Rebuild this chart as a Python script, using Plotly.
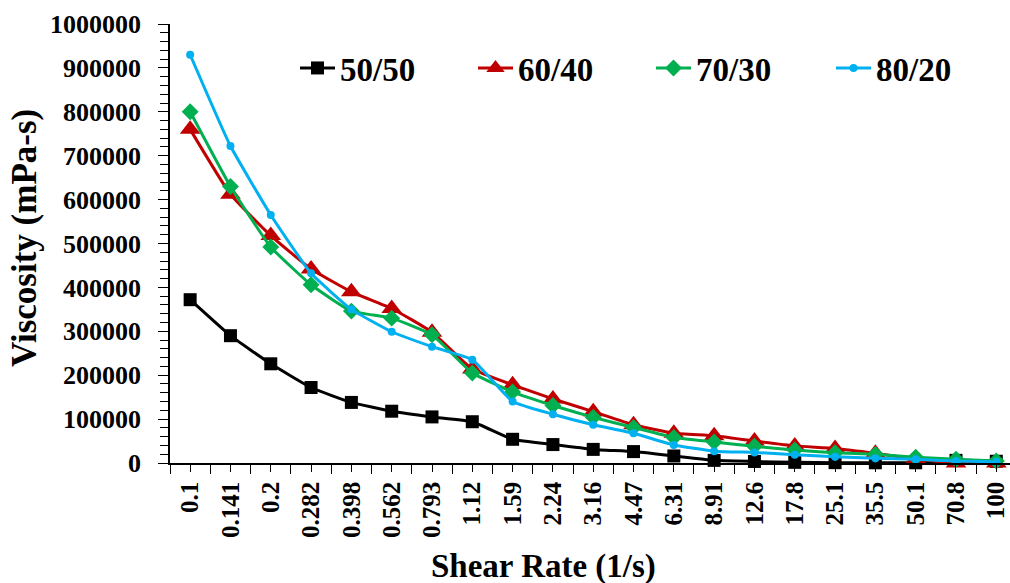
import plotly.graph_objects as go

shear_rate_labels = ["0.1", "0.141", "0.2", "0.282", "0.398", "0.562", "0.793", "1.12",
                     "1.59", "2.24", "3.16", "4.47", "6.31", "8.91", "12.6", "17.8",
                     "25.1", "35.5", "50.1", "70.8", "100"]

visc_50_50 = [372000, 290000, 226000, 172000, 138000, 118000, 105000, 94000, 54000, 42000,
              31000, 26000, 16000, 6000, 3500, 1500, 800, 500, 500, 6000, 4000]
visc_60_40 = [760000, 612000, 518000, 442000, 390000, 352000, 298000, 214000, 178000, 146000,
              117000, 87000, 68000, 62000, 50000, 39000, 33000, 22000, 9000, 0, 0]
visc_70_30 = [800000, 630000, 492000, 406000, 346000, 330000, 292000, 205000, 162000, 131000,
              104000, 81000, 58000, 48000, 38000, 29600, 23500, 19700, 13000, 8400, 4500]
visc_80_20 = [930000, 722000, 565000, 432000, 350000, 299000, 265000, 235000, 140000, 111000,
              87000, 67600, 41000, 27000, 24000, 19000, 14400, 10600, 8400, 4500, 2700]

series_names = ["50/50", "60/40", "70/30", "80/20"]
series_values = [visc_50_50, visc_60_40, visc_70_30, visc_80_20]
series_colors = ["#000000", "#C00000", "#00B050", "#00B0F0"]
series_symbols = ["square", "triangle-up", "diamond", "circle"]
series_sizes = [13, 18, 13, 8]

y_tick_values = list(range(0, 1000001, 100000))

FONT = "Liberation Serif"
W, H = 1010, 583
ML, MR, MT, MB = 170, 0, 24, 120
PW, PH = W - ML - MR, H - MT - MB
x_idx = list(range(len(shear_rate_labels)))
boundaries = [i - 0.5 for i in range(len(shear_rate_labels) + 1)]

legend_ids = ["legend", "legend2", "legend3", "legend4"]
legend_left_px = [295, 473, 651, 831]

fig = go.Figure()
for name, vals, col, sym, sz, lid in zip(series_names, series_values, series_colors,
                                         series_symbols, series_sizes, legend_ids):
    fig.add_trace(go.Scatter(
        x=x_idx, y=vals, name=name, mode="lines+markers", legend=lid,
        line=dict(color=col, width=3, shape="spline", smoothing=0.4),
        marker=dict(symbol=sym, size=sz, color=col, line=dict(width=0)),
        cliponaxis=False,
    ))

legend_font = dict(family=FONT, size=33, color="#000000", weight="bold")
legend_layout = {}
for lid, lx in zip(legend_ids, legend_left_px):
    legend_layout[lid] = dict(
        x=(lx - ML) / PW, y=(H - MB - 68) / PH, xanchor="left", yanchor="middle",
        orientation="h", font=legend_font, itemwidth=35,
        bgcolor="rgba(0,0,0,0)", borderwidth=0,
    )

tick_font = dict(family=FONT, size=26, color="#000000", weight="bold")

fig.update_layout(
    width=W, height=H,
    margin=dict(l=ML, r=MR, t=MT, b=MB, autoexpand=False),
    paper_bgcolor="white", plot_bgcolor="white",
    showlegend=True,
    xaxis=dict(
        range=[-0.5, 20.34], showgrid=False, zeroline=False,
        showline=True, linecolor="#000000", linewidth=1.5,
        tickmode="array", tickvals=x_idx, ticktext=shear_rate_labels,
        ticks="outside", ticklen=7, tickwidth=1.3, tickcolor="#000000",
        tickangle=-90, tickfont=dict(family=FONT, size=25, color="#000000", weight="bold"),
        minor=dict(tickmode="array", tickvals=boundaries, ticks="outside",
                   ticklen=9, tickwidth=1.3, tickcolor="#000000", showgrid=False),
    ),
    yaxis=dict(
        range=[0, 1000000], showgrid=False, zeroline=False,
        showline=True, linecolor="#000000", linewidth=1.5,
        tickmode="array", tickvals=y_tick_values,
        ticktext=[str(v) for v in y_tick_values],
        ticks="outside", ticklen=10, tickwidth=1.3, tickcolor="#000000",
        tickfont=tick_font, ticklabelstandoff=12,
        minor=dict(dtick=20000, ticks="outside", ticklen=8, tickwidth=1.3,
                   tickcolor="#000000", showgrid=False),
    ),
    xaxis2=dict(overlaying="x", matches="x", anchor="y", showgrid=False, zeroline=False,
                showline=False, tickmode="array", tickvals=boundaries,
                ticks="inside", ticklen=8, tickwidth=1.3, tickcolor="#000000",
                showticklabels=False),
    yaxis2=dict(overlaying="y", matches="y", anchor="x", side="left", showgrid=False,
                zeroline=False, showline=False, tickmode="array", tickvals=y_tick_values,
                ticks="inside", ticklen=6, tickwidth=1.3, tickcolor="#000000",
                showticklabels=False),
    **legend_layout,
)

fig.add_annotation(text="Viscosity (mPa-s)", xref="paper", yref="paper",
                   x=(25 - ML) / PW, y=(H - MB - 238) / PH, textangle=-90,
                   xanchor="center", yanchor="middle", showarrow=False,
                   font=dict(family=FONT, size=35, color="#000000", weight="bold"))
fig.add_annotation(text="Shear Rate (1/s)", xref="paper", yref="paper",
                   x=(543 - ML) / PW, y=(H - MB - 566) / PH,
                   xanchor="center", yanchor="middle", showarrow=False,
                   font=dict(family=FONT, size=33, color="#000000", weight="bold"))

fig.write_html("out.html",
               config={"displayModeBar": False},
               post_script="document.body.style.margin='0';"
                           "document.body.style.overflow='hidden';")
